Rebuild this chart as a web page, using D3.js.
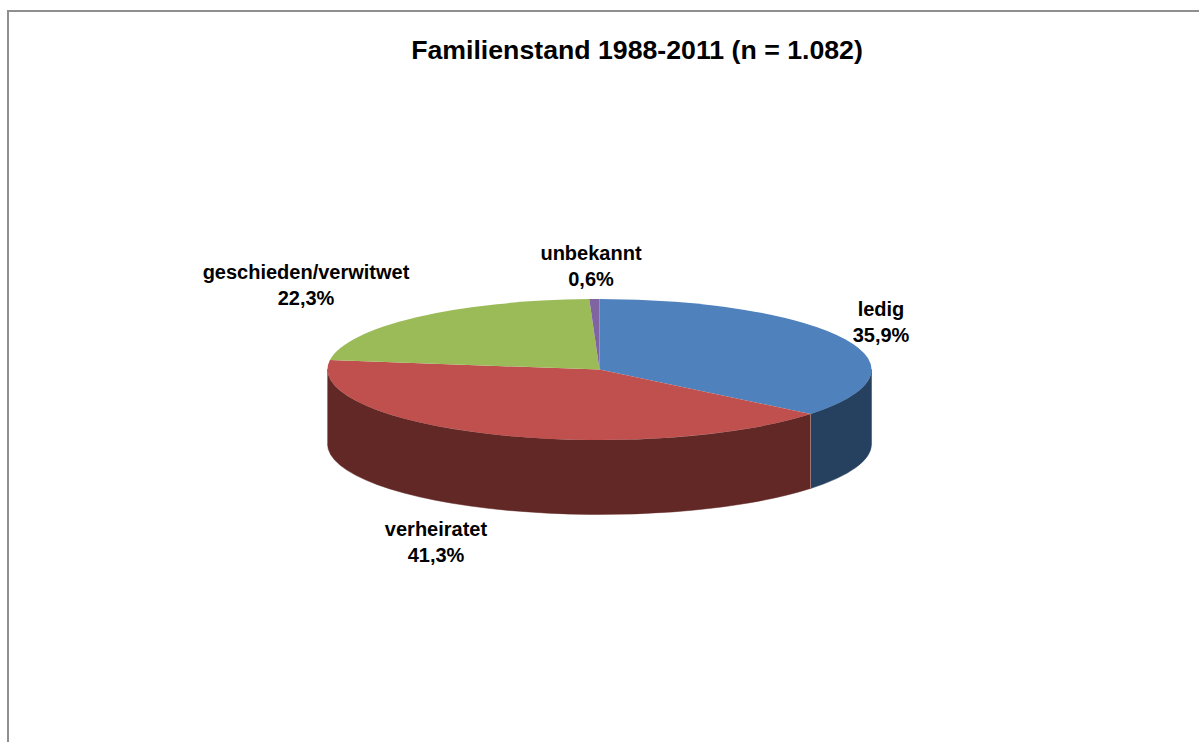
<!DOCTYPE html>
<html><head><meta charset="utf-8">
<script src="https://cdnjs.cloudflare.com/ajax/libs/d3/7.9.0/d3.min.js"></script>
<style>html,body{margin:0;background:#fff}svg{display:block}text{font-family:"Liberation Sans",Arial,sans-serif;font-weight:bold;fill:#000;text-anchor:middle}</style>
</head><body><div id="c"></div>
<script>
const categories=["ledig","verheiratet","geschieden/verwitwet","unbekannt"];
const values=[35.9,41.3,22.3,0.6];
const valueLabels=["35,9%","41,3%","22,3%","0,6%"];
const topColors=["#4f81bd","#c0504d","#9bbb59","#8064a2"];
const sideColors=["#26405f","#612826","#4e5e2c","#403251"];
const title="Familienstand 1988-2011 (n = 1.082)";
const labelPos=[[881,310],[436,530],[306,273],[591,254]];

const W=1199,H=742,cx=599.5,cy=369.5,rx=272,ry=70.5,depth=74.5;
const svg=d3.select("#c").append("svg").attr("width",W).attr("height",H);
svg.append("path").attr("d",`M8,${H}V11H${W}`).attr("fill","none").attr("stroke","#8f8f8f").attr("stroke-width",2);

const arcs=d3.pie().sort(null)(values);
const pt=(a,dy=0)=>[cx+rx*Math.sin(a),cy-ry*Math.cos(a)+dy];
const sides=arcs.map((d,i)=>({i,a0:Math.max(d.startAngle,Math.PI/2),a1:Math.min(d.endAngle,Math.PI*1.5)})).filter(d=>d.a1>d.a0);
svg.append("g").selectAll("path").data(sides).join("path")
 .attr("d",d=>{const p0=pt(d.a0),p1=pt(d.a1),q0=pt(d.a0,depth),q1=pt(d.a1,depth);
  return `M${p0}A${rx},${ry} 0 0 1 ${p1}L${q1}A${rx},${ry} 0 0 0 ${q0}Z`;})
 .attr("fill",d=>sideColors[d.i]).attr("stroke",d=>sideColors[d.i]).attr("stroke-width",.5);
svg.append("path").attr("d",()=>{const a=arcs[0].endAngle,p=pt(a),q=pt(a,depth);return `M${p}L${q}`;})
 .attr("stroke","#a07a78").attr("stroke-width",1).attr("fill","none");
svg.append("path").attr("d",()=>{const p=pt(Math.PI*1.5),q=pt(Math.PI*1.5,depth);return `M${p}L${q}`;})
 .attr("stroke","#a07a78").attr("stroke-width",1).attr("fill","none");
const arc=d3.arc().innerRadius(0).outerRadius(ry);
svg.append("g").attr("transform",`translate(${cx},${cy}) scale(${rx/ry},1)`)
 .selectAll("path").data(arcs).join("path").attr("d",arc).attr("fill",(d,i)=>topColors[i]);

svg.append("text").attr("x",637).attr("y",59).attr("font-size",26.7).text(title);
const g=svg.append("g").selectAll("text").data(categories).join("text")
 .attr("font-size",20)
 .attr("x",(d,i)=>labelPos[i][0]).attr("y",(d,i)=>labelPos[i][1]+6);
g.append("tspan").attr("x",(d,i)=>labelPos[i][0]).text(d=>d);
g.append("tspan").attr("x",(d,i)=>labelPos[i][0]).attr("dy",26).text((d,i)=>valueLabels[i]);
</script></body></html>
